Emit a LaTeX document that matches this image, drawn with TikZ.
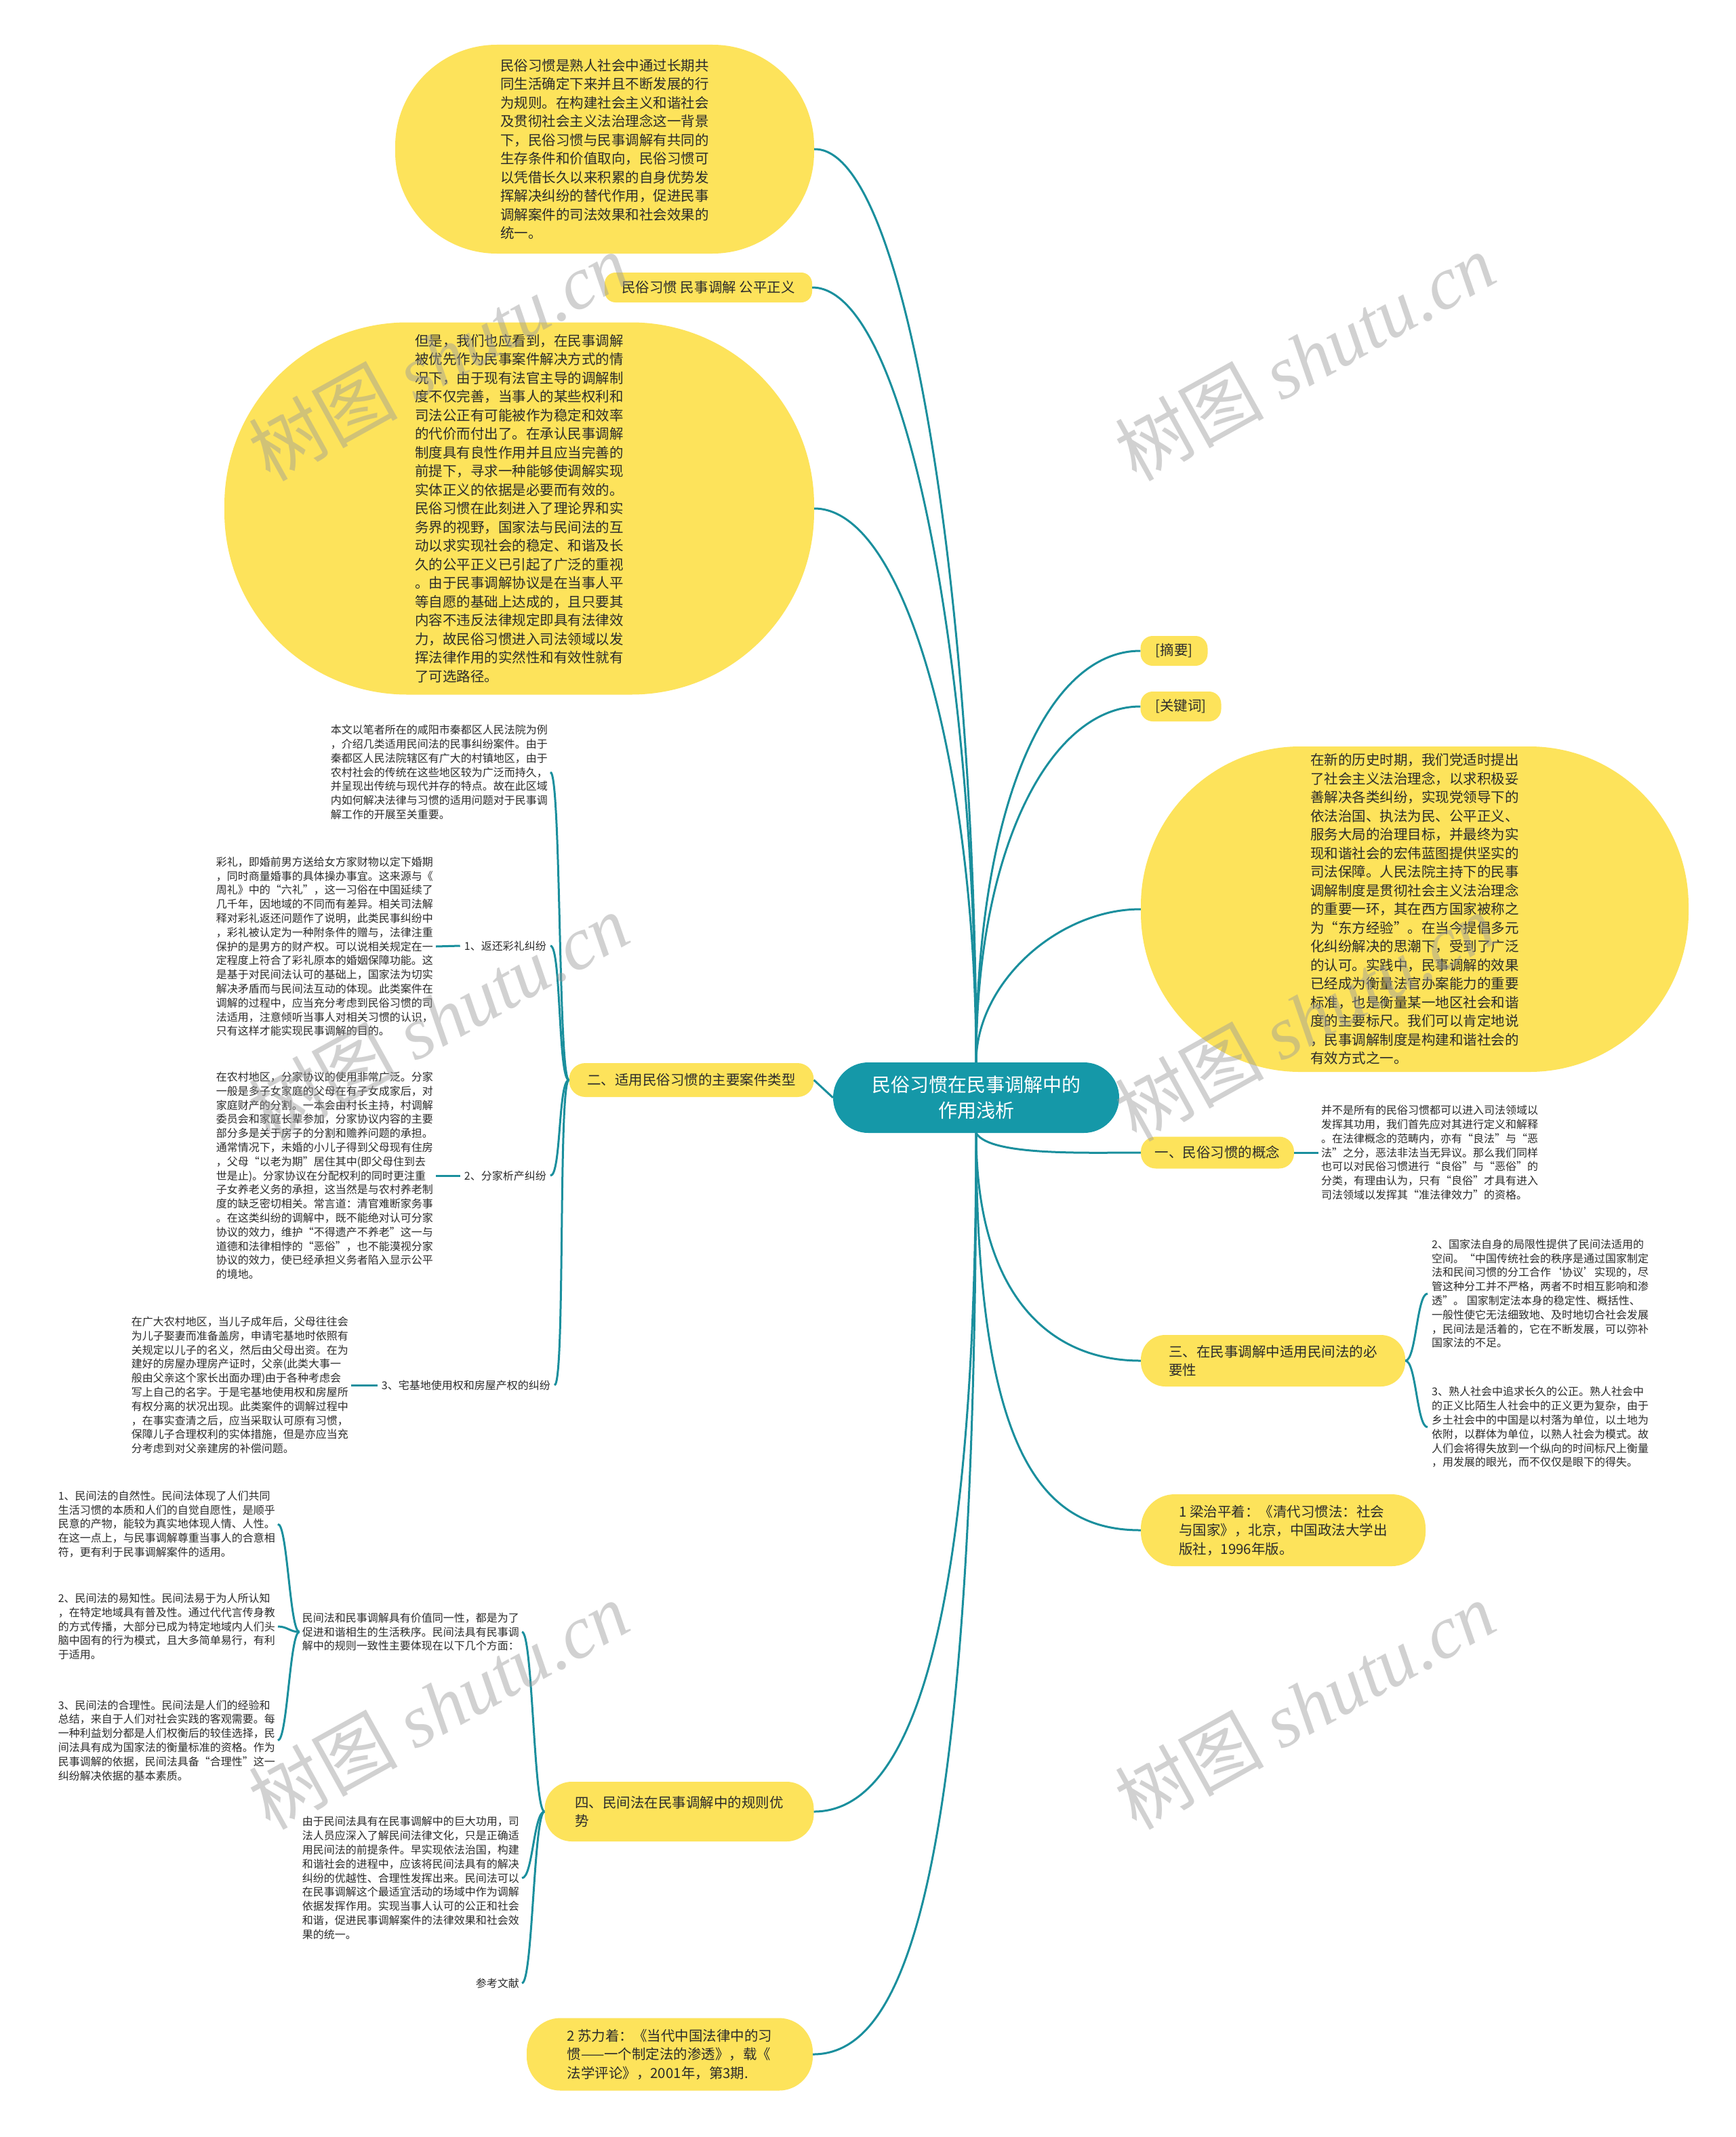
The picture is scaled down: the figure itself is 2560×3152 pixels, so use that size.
\documentclass[tikz,border=0pt]{standalone}
\usepackage{fontspec}
\setmainfont{Noto Sans CJK SC}
\newfontfamily\wmlatin{Liberation Serif}
\definecolor{ylw}{HTML}{FDE35B}
\definecolor{teal1}{HTML}{1598A8}
\definecolor{lnc}{HTML}{1A8F9D}
\definecolor{txt}{HTML}{2B2B2B}
\definecolor{wmc}{HTML}{9A9A9A}
\begin{document}
\begin{tikzpicture}[x=1pt,y=-1pt,
  rootst/.style={fill=teal1,text=white,font=\fontsize{28}{38}\selectfont,align=center,minimum width=422,minimum height=104,rounded corners=52,inner sep=0},
  bubble/.style={fill=ylw,text=txt,font=\fontsize{20.5}{27.5}\selectfont,align=left,inner sep=0},
  small/.style={text=txt,font=\fontsize{16}{20.8}\selectfont,align=left,inner sep=4},
  conn/.style={draw=lnc,line width=3},
  wm/.style={text=wmc,opacity=0.45,rotate=29,font=\fontsize{110}{120}\selectfont,inner sep=0}]
\fill[white] (0,0) rectangle (2560,3152);
\useasboundingbox (0,0) rectangle (2560,3152);

% root
\node[rootst] (root) at (1440,1619) {民俗习惯在民事调解中的\\作用浅析};

% upper left
\node[bubble,minimum width=618,minimum height=308,rounded corners=150] (b1) at (892,220) {民俗习惯是熟人社会中通过长期共\\同生活确定下来并且不断发展的行\\为规则。在构建社会主义和谐社会\\及贯彻社会主义法治理念这一背景\\下，民俗习惯与民事调解有共同的\\生存条件和价值取向，民俗习惯可\\以凭借长久以来积累的自身优势发\\挥解决纠纷的替代作用，促进民事\\调解案件的司法效果和社会效果的\\统一。};
\node[bubble,minimum width=306,minimum height=44,rounded corners=16] (tag) at (1045,424) {民俗习惯 民事调解 公平正义};
\node[bubble,minimum width=870,minimum height=549,rounded corners=270] (b2) at (766,750) {但是，我们也应看到，在民事调解\\被优先作为民事案件解决方式的情\\况下，由于现有法官主导的调解制\\度不仅完善，当事人的某些权利和\\司法公正有可能被作为稳定和效率\\的代价而付出了。在承认民事调解\\制度具有良性作用并且应当完善的\\前提下，寻求一种能够使调解实现\\实体正义的依据是必要而有效的。\\民俗习惯在此刻进入了理论界和实\\务界的视野，国家法与民间法的互\\动以求实现社会的稳定、和谐及长\\久的公平正义已引起了广泛的重视\\。由于民事调解协议是在当事人平\\等自愿的基础上达成的，且只要其\\内容不违反法律规定即具有法律效\\力，故民俗习惯进入司法领域以发\\挥法律作用的实然性和有效性就有\\了可选路径。};

% branch two
\node[bubble,minimum width=361,minimum height=50,rounded corners=24] (n2) at (1020,1593) {二、适用民俗习惯的主要案件类型};
\node[small,anchor=east] (t0) at (812,1139) {本文以笔者所在的咸阳市秦都区人民法院为例\\，介绍几类适用民间法的民事纠纷案件。由于\\秦都区人民法院辖区有广大的村镇地区，由于\\农村社会的传统在这些地区较为广泛而持久，\\并呈现出传统与现代并存的特点。故在此区域\\内如何解决法律与习惯的适用问题对于民事调\\解工作的开展至关重要。};
\node[small,anchor=east,inner xsep=6] (l1) at (812,1395) {1、返还彩礼纠纷};
\node[small,anchor=east] (t1) at (643,1396) {彩礼，即婚前男方送给女方家财物以定下婚期\\，同时商量婚事的具体操办事宜。这来源与《\\周礼》中的“六礼”，这一习俗在中国延续了\\几千年，因地域的不同而有差异。相关司法解\\释对彩礼返还问题作了说明，此类民事纠纷中\\，彩礼被认定为一种附条件的赠与，法律注重\\保护的是男方的财产权。可以说相关规定在一\\定程度上符合了彩礼原本的婚姻保障功能。这\\是基于对民间法认可的基础上，国家法为切实\\解决矛盾而与民间法互动的体现。此类案件在\\调解的过程中，应当充分考虑到民俗习惯的司\\法适用，注意倾听当事人对相关习惯的认识，\\只有这样才能实现民事调解的目的。};
\node[small,anchor=east,inner xsep=6] (l2) at (812,1734) {2、分家析产纠纷};
\node[small,anchor=east] (t2) at (643,1734) {在农村地区，分家协议的使用非常广泛。分家\\一般是多子女家庭的父母在有子女成家后，对\\家庭财产的分割。一本会由村长主持，村调解\\委员会和家庭长辈参加，分家协议内容的主要\\部分多是关于房子的分割和赡养问题的承担。\\通常情况下，未婚的小儿子得到父母现有住房\\，父母“以老为期”居住其中(即父母住到去\\世是止)。分家协议在分配权利的同时更注重\\子女养老义务的承担，这当然是与农村养老制\\度的缺乏密切相关。常言道：清官难断家务事\\。在这类纠纷的调解中，既不能绝对认可分家\\协议的效力，维护“不得遗产不养老”这一与\\道德和法律相悖的“恶俗”，也不能漠视分家\\协议的效力，使已经承担义务者陷入显示公平\\的境地。};
\node[small,anchor=east,inner xsep=6] (l3) at (818,2043) {3、宅基地使用权和房屋产权的纠纷};
\node[small,anchor=east] (t3) at (518,2043) {在广大农村地区，当儿子成年后，父母往往会\\为儿子娶妻而准备盖房，申请宅基地时依照有\\关规定以儿子的名义，然后由父母出资。在为\\建好的房屋办理房产证时，父亲(此类大事一\\般由父亲这个家长出面办理)由于各种考虑会\\写上自己的名字。于是宅基地使用权和房屋所\\有权分离的状况出现。此类案件的调解过程中\\，在事实查清之后，应当采取认可原有习惯，\\保障儿子合理权利的实体措施，但是亦应当充\\分考虑到对父亲建房的补偿问题。};

% branch four
\node[bubble,minimum width=397,minimum height=88,rounded corners=40] (n4) at (1002,2672) {四、民间法在民事调解中的规则优\\势};
\node[small,anchor=east] (s0) at (770,2407) {民间法和民事调解具有价值同一性，都是为了\\促进和谐相生的生活秩序。民间法具有民事调\\解中的规则一致性主要体现在以下几个方面：};
\node[small,anchor=east] (p1) at (410,2248) {1、民间法的自然性。民间法体现了人们共同\\生活习惯的本质和人们的自觉自愿性，是顺乎\\民意的产物，能较为真实地体现人情、人性。\\在这一点上，与民事调解尊重当事人的合意相\\符，更有利于民事调解案件的适用。};
\node[small,anchor=east] (p2) at (410,2399) {2、民间法的易知性。民间法易于为人所认知\\，在特定地域具有普及性。通过代代言传身教\\的方式传播，大部分已成为特定地域内人们头\\脑中固有的行为模式，且大多简单易行，有利\\于适用。};
\node[small,anchor=east] (p3) at (410,2567) {3、民间法的合理性。民间法是人们的经验和\\总结，来自于人们对社会实践的客观需要。每\\一种利益划分都是人们权衡后的较佳选择，民\\间法具有成为国家法的衡量标准的资格。作为\\民事调解的依据，民间法具备“合理性”这一\\纠纷解决依据的基本素质。};
\node[small,anchor=east] (s4) at (770,2770) {由于民间法具有在民事调解中的巨大功用，司\\法人员应深入了解民间法律文化，只是正确适\\用民间法的前提条件。早实现依法治国，构建\\和谐社会的进程中，应该将民间法具有的解决\\纠纷的优越性、合理性发挥出来。民间法可以\\在民事调解这个最适宜活动的场域中作为调解\\依据发挥作用。实现当事人认可的公正和社会\\和谐，促进民事调解案件的法律效果和社会效\\果的统一。};
\node[small,anchor=east] (refl) at (770,2925) {参考文献};
\node[bubble,minimum width=422,minimum height=107,rounded corners=50] (ref2) at (988,3030) {2 苏力着：《当代中国法律中的习\\惯——一个制定法的渗透》，载《\\法学评论》，2001年，第3期.};

% right side
\node[bubble,minimum width=99,minimum height=44,rounded corners=18] (abs) at (1732,960) {[摘要]};
\node[bubble,minimum width=119,minimum height=44,rounded corners=18] (kw) at (1742,1042) {[关键词]};
\node[bubble,minimum width=808,minimum height=480,rounded corners=235] (b3) at (2087,1341) {在新的历史时期，我们党适时提出\\了社会主义法治理念，以求积极妥\\善解决各类纠纷，实现党领导下的\\依法治国、执法为民、公平正义、\\服务大局的治理目标，并最终为实\\现和谐社会的宏伟蓝图提供坚实的\\司法保障。人民法院主持下的民事\\调解制度是贯彻社会主义法治理念\\的重要一环，其在西方国家被称之\\为“东方经验”。在当今提倡多元\\化纠纷解决的思潮下，受到了广泛\\的认可。实践中，民事调解的效果\\已经成为衡量法官办案能力的重要\\标准，也是衡量某一地区社会和谐\\度的主要标尺。我们可以肯定地说\\，民事调解制度是构建和谐社会的\\有效方式之一。};
\node[bubble,minimum width=226,minimum height=47,rounded corners=22] (n1) at (1796,1700) {一、民俗习惯的概念};
\node[small,anchor=west] (q1) at (1945,1700) {并不是所有的民俗习惯都可以进入司法领域以\\发挥其功用，我们首先应对其进行定义和解释\\。在法律概念的范畴内，亦有“良法”与“恶\\法”之分，恶法非法当无异议。那么我们同样\\也可以对民俗习惯进行“良俗”与“恶俗”的\\分类，有理由认为，只有“良俗”才具有进入\\司法领域以发挥其“准法律效力”的资格。};
\node[bubble,minimum width=390,minimum height=76,rounded corners=36] (n3) at (1878,2007) {三、在民事调解中适用民间法的必\\要性};
\node[small,anchor=west,inner xsep=6] (r2) at (2106,1908) {2、国家法自身的局限性提供了民间法适用的\\空间。“中国传统社会的秩序是通过国家制定\\法和民间习惯的分工合作‘协议’实现的，尽\\管这种分工并不严格，两者不时相互影响和渗\\透”。 国家制定法本身的稳定性、概括性、\\一般性使它无法细致地、及时地切合社会发展\\，民间法是活着的，它在不断发展，可以弥补\\国家法的不足。};
\node[small,anchor=west,inner xsep=6] (r3) at (2106,2105) {3、熟人社会中追求长久的公正。熟人社会中\\的正义比陌生人社会中的正义更为复杂，由于\\乡土社会中的中国是以村落为单位，以土地为\\依附，以群体为单位，以熟人社会为模式。故\\人们会将得失放到一个纵向的时间标尺上衡量\\，用发展的眼光，而不仅仅是眼下的得失。};
\node[bubble,minimum width=420,minimum height=106,rounded corners=50] (ref1) at (1893,2257) {1 梁治平着：《清代习惯法：社会\\与国家》，北京，中国政法大学出\\版社，1996年版。};

% connectors from root
\draw[conn] (root.north) .. controls (1440,900) and (1340,217) .. (b1.east);
\draw[conn] (root.north) .. controls (1440,1000) and (1340,424) .. (tag.east);
\draw[conn] (root.north) .. controls (1440,1150) and (1340,750) .. (b2.east);
\draw[conn] (root.north) .. controls (1440,1200) and (1540,960) .. (abs.west);
\draw[conn] (root.north) .. controls (1440,1250) and (1550,1042) .. (kw.west);
\draw[conn] (root.north) .. controls (1440,1450) and (1560,1341) .. (b3.west);
\draw[conn] (root.west) -- (n2.east);
\draw[conn] (root.south) .. controls (1460,1705) and (1600,1700) .. (n1.west);
\draw[conn] (root.south) .. controls (1440,1900) and (1540,2007) .. (n3.west);
\draw[conn] (root.south) .. controls (1440,2150) and (1540,2257) .. (ref1.west);
\draw[conn] (root.south) .. controls (1440,2450) and (1330,2672) .. (n4.east);
\draw[conn] (root.south) .. controls (1440,2800) and (1330,3030) .. (ref2.east);

% branch two brackets
\foreach \c in {t0,l1,l2,l3}
  \draw[conn] (n2.west) .. controls +(-16,0) and +(16,0) .. (\c.east);
\draw[conn] (l1.west) -- (t1.east);
\draw[conn] (l2.west) -- (t2.east);
\draw[conn] (l3.west) -- (t3.east);

% branch four brackets
\foreach \c in {s0,s4,refl}
  \draw[conn] (n4.west) .. controls +(-16,0) and +(16,0) .. (\c.east);
\foreach \c in {p1,p2,p3}
  \draw[conn] (s0.west) .. controls +(-14,0) and +(14,0) .. (\c.east);

% right branches
\draw[conn] (n1.east) -- (q1.west);
\foreach \c in {r2,r3}
  \draw[conn] (n3.east) .. controls +(16,0) and +(-16,0) .. (\c.west);

% watermarks
\node[wm] (w1) at (647,526) {树图 {\wmlatin\itshape shutu.cn}};
\node[wm] (w2) at (1925,526) {树图 {\wmlatin\itshape shutu.cn}};
\node[wm] (w3) at (647,1500) {树图 {\wmlatin\itshape shutu.cn}};
\node[wm] (w4) at (1925,1500) {树图 {\wmlatin\itshape shutu.cn}};
\node[wm] (w5) at (647,2515) {树图 {\wmlatin\itshape shutu.cn}};
\node[wm] (w6) at (1925,2515) {树图 {\wmlatin\itshape shutu.cn}};
\end{tikzpicture}
\end{document}
